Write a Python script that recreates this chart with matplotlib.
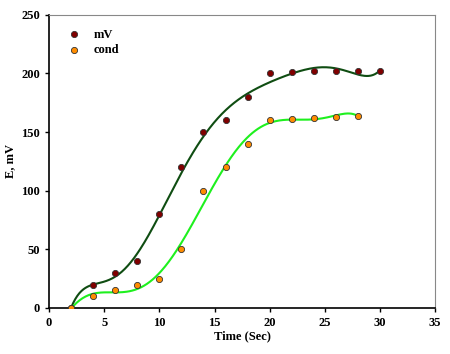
import matplotlib
matplotlib.use('Agg')
import matplotlib.pyplot as plt
import numpy as np

plt.rcParams['font.family'] = ['Liberation Serif', 'DejaVu Serif']
plt.rcParams['font.weight'] = 'bold'

# data
t_mv = [2, 4, 6, 8, 10, 12, 14, 16, 18, 20, 22, 24, 26, 28, 30]
mv = [0, 20, 30, 40, 80, 120, 150, 160, 180, 200, 201, 202, 202, 202, 202]
t_cond = [2, 4, 6, 8, 10, 12, 14, 16, 18, 20, 22, 24, 26, 28]
cond = [0, 10, 15, 20, 25, 50, 100, 120, 140, 160, 161, 162, 163, 164]


def smooth(t, y, deg):
    # polynomial fit as smoothing curve
    p = np.polyfit(t, y, deg)
    xs = np.linspace(min(t), max(t), 300)
    return xs, np.polyval(p, xs)


fig = plt.figure(figsize=(4.5, 3.54), dpi=100)
ax = fig.add_axes([0.109, 0.130, 0.858, 0.828])

xs, ys = smooth(t_mv, mv, 7)
ax.plot(xs, ys, color='#0f4d12', lw=1.5, zorder=2)
xs, ys = smooth(t_cond, cond, 7)
ax.plot(xs, ys, color='#1ef01e', lw=1.5, zorder=2)

ax.scatter(t_mv, mv, s=20, color='#800000', edgecolor='#333333', lw=0.6, zorder=3, label='mV')
ax.scatter(t_cond, cond, s=20, color='#ff8c00', edgecolor='#333333', lw=0.6, zorder=3, label='cond')

ax.set_xlim(0, 35)
ax.set_ylim(0, 250)
ax.set_xticks(range(0, 36, 5))
ax.set_yticks(range(0, 251, 50))
ax.tick_params(direction='out', length=3, width=1, labelsize=9)
for lab in ax.get_xticklabels() + ax.get_yticklabels():
    lab.set_fontweight('bold')

ax.spines['top'].set_color('#888888')
ax.spines['right'].set_color('#888888')
ax.spines['left'].set_linewidth(1.2)
ax.spines['bottom'].set_linewidth(1.2)

ax.set_xlabel('Time (Sec)', fontsize=9, fontweight='bold', labelpad=1)
ax.set_ylabel('E, mV', fontsize=9, fontweight='bold', labelpad=4)

ax.legend(loc='upper left', frameon=False, fontsize=9, handlelength=1,
          handletextpad=1.1, labelspacing=0.25, borderaxespad=0,
          bbox_to_anchor=(0.035, 0.97))

fig.savefig('out.png', dpi=100)
